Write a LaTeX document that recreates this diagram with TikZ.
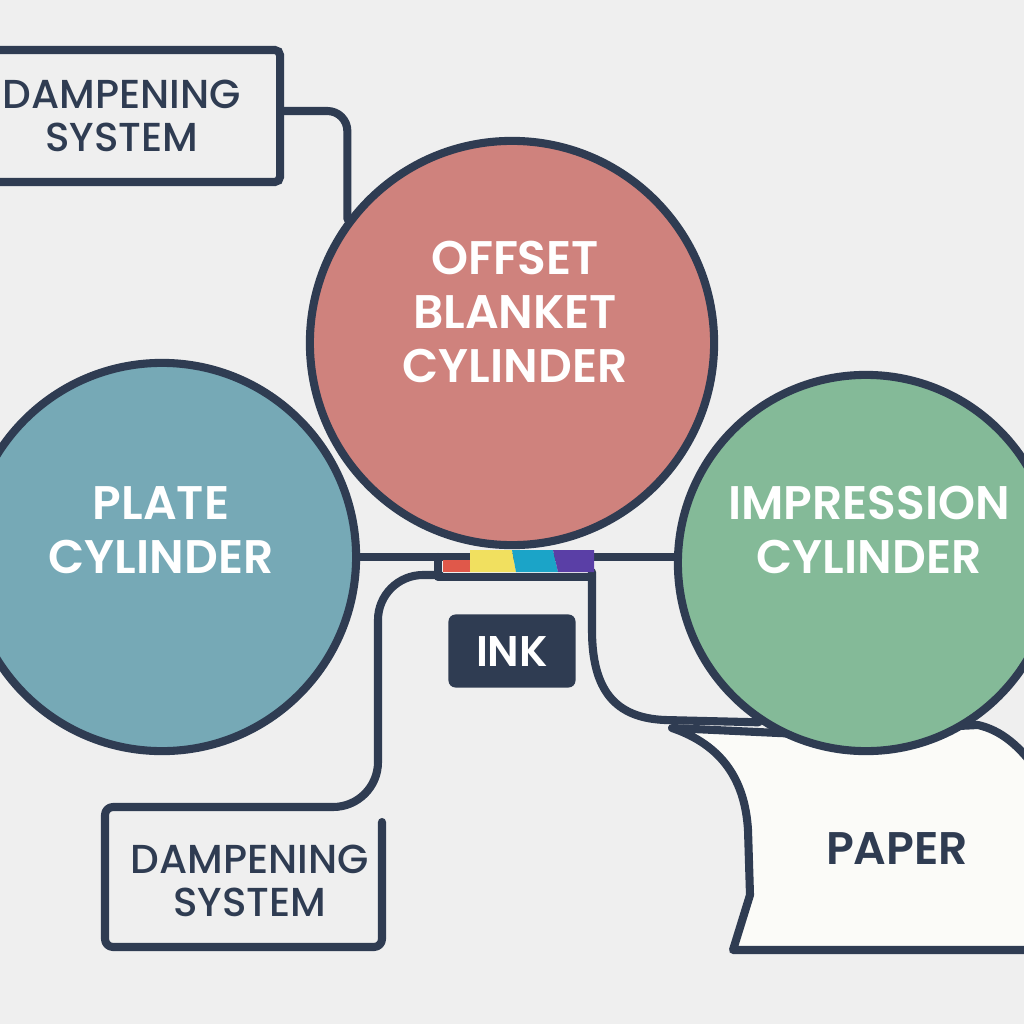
\documentclass[tikz,border=0pt]{standalone}
\usepackage{fontspec}
\setmainfont{Poppins}
\newfontfamily\pmed{Poppins Medium}
\newfontfamily\psemi{Poppins SemiBold}
\usetikzlibrary{calc}
\definecolor{bgc}{HTML}{EFEFEF}
\definecolor{navy}{HTML}{2F3C52}
\definecolor{blanketc}{HTML}{CF827D}
\definecolor{platec}{HTML}{76A9B6}
\definecolor{imprc}{HTML}{84BA98}
\definecolor{paperc}{HTML}{FBFBF8}
\definecolor{inkred}{HTML}{E0584A}
\definecolor{inkyel}{HTML}{F1E05F}
\definecolor{inkcyan}{HTML}{1BA4C8}
\definecolor{inkpur}{HTML}{5A3FA6}
\pgfdeclarelayer{bglayer}
\pgfdeclarelayer{backlayer}
\pgfsetlayers{bglayer,backlayer,main}
\begin{document}
\begin{tikzpicture}[x=0.01cm,y=-0.01cm,
  cyl/.style={circle, draw=navy, line width=2.3pt, inner sep=0pt},
  cyltext/.style={text=white, font=\psemi\fontsize{13.4}{15.4}\selectfont, align=center, inner sep=0pt},
  conn/.style={draw=navy, line width=2.3pt, line cap=round, line join=round},
  lbl/.style={text=navy, font=\pmed\fontsize{11.5}{12.3}\selectfont, align=center},
]
\begin{pgfonlayer}{bglayer}
\fill[bgc] (0,0) rectangle (1024,1024);
\end{pgfonlayer}
\useasboundingbox (0,0) rectangle (1024,1024);

% cylinders
\node[cyl, fill=blanketc, minimum size=4.04cm] (blanket) at (512,343) {};
\node[cyl, fill=platec, minimum size=3.88cm] (plate) at (162,557) {};
\node[cyl, fill=imprc, minimum size=3.76cm] (impr) at (866,563) {};
\node[cyltext] (blanketlbl) at (515,312) {OFFSET\\BLANKET\\CYLINDER};
\node[cyltext] (platelbl) at (161,530) {PLATE\\CYLINDER};
\node[cyltext] (imprlbl) at (869,530) {IMPRESSION\\CYLINDER};

% dampening systems
\node[lbl, draw=navy, line width=2.3pt, rounded corners=1.5pt, minimum width=3.16cm, minimum height=1.32cm, inner sep=0pt] (damp1) at (122,116) {DAMPENING\\SYSTEM};
\node[lbl, inner sep=0pt] (damp2) at (250,881) {DAMPENING\\SYSTEM};

% ink
\node[fill=navy, rounded corners=2pt, text=white, minimum width=1.27cm, minimum height=0.73cm, font=\psemi\fontsize{12.2}{14}\selectfont, inner sep=0pt] (ink) at (512,651) {INK};
\coordinate (inkbar) at (532,561);
\fill[inkred] (443,560) rectangle (472,572);
\fill[inkyel] (470,550) -- (512,550) -- (516,572) -- (470,572) -- cycle;
\fill[inkcyan] (512,550) -- (553,550) -- (558,572) -- (516,572) -- cycle;
\fill[inkpur] (553,550) -- (594,550) -- (594,572) -- (558,572) -- cycle;

% paper
\node[text=navy, font=\psemi\fontsize{13}{15}\selectfont, inner sep=0pt] (paper) at (897,849) {PAPER};

\begin{pgfonlayer}{backlayer}
\draw[conn, fill=paperc] (672,728) .. controls (722,745) and (745,780) .. (748,830) -- (750,895) -- (733,950) -- (1040,950) -- (1040,775) .. controls (1020,745) and (1000,730) .. (978,725) -- (800,734) -- cycle;
\draw[conn, rounded corners=0.2cm] ([yshift=0.05cm]damp1.east) -| (blanket.143);
\draw[conn] (plate.east) -- (plate.east -| impr.west);
\draw[conn] (438,557) -- (438,577) -- (592,577);
\draw[conn, rounded corners=0.45cm] (440,575) -- (378,575) -- (378,807) [rounded corners=0.08cm] -- (105,807) -- (105,947) -- (382,947) -- (382,822);
\draw[conn] (592,572) -- (592,630) .. controls (592,690) and (615,718) .. (665,720) -- (impr.236);
\end{pgfonlayer}
\end{tikzpicture}
\end{document}
